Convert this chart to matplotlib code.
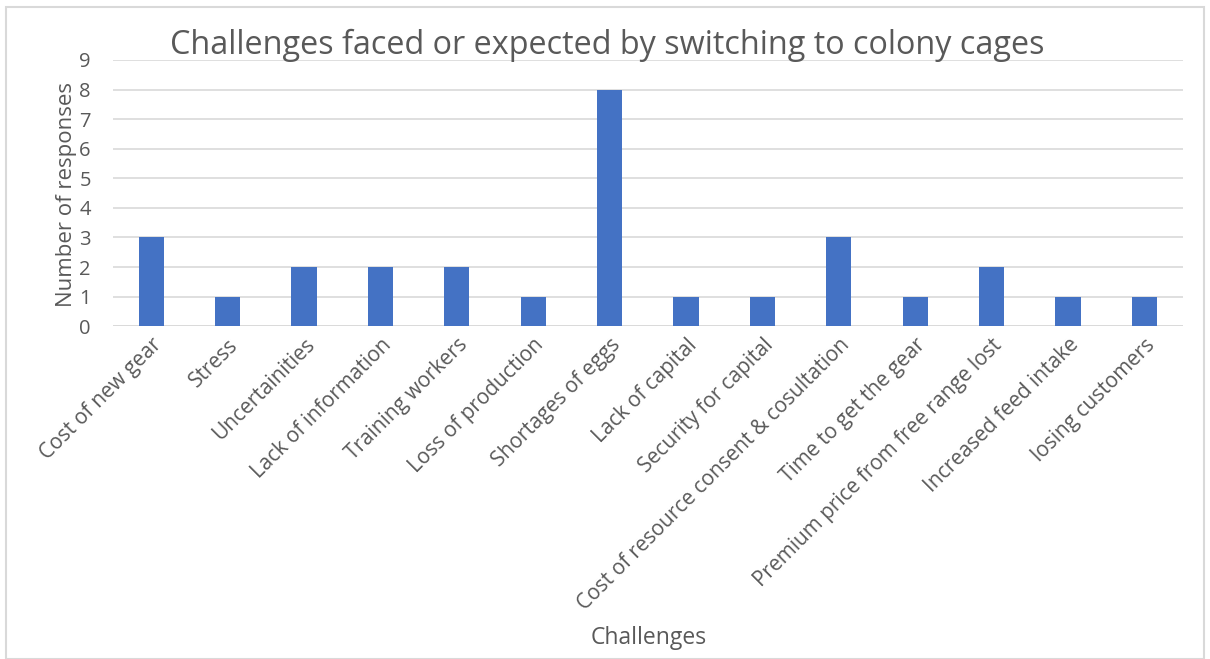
import matplotlib.pyplot as plt
from matplotlib.patches import Rectangle

challenges = [
    "Cost of new gear", "Stress", "Uncertainities", "Lack of information",
    "Training workers", "Loss of production", "Shortages of eggs",
    "Lack of capital", "Security for capital",
    "Cost of resource consent & cosultation", "Time to get the gear",
    "Premium price from free range lost", "Increased feed intake",
    "losing customers",
]
responses = [3, 1, 2, 2, 2, 1, 8, 1, 1, 3, 1, 2, 1, 1]

BAR = "#4472c4"
TXT = "#595959"
GRID = "#d9d9d9"

plt.rcParams["font.family"] = ["Open Sans", "DejaVu Sans"]

fig = plt.figure(figsize=(12.1, 6.59), dpi=100)
ax = fig.add_axes([0.0934, 0.505, 0.884, 0.404])

x = range(len(challenges))
ax.bar(x, responses, width=0.33, color=BAR, zorder=3)

ax.set_xlim(-0.5, len(challenges) - 0.5)
ax.set_ylim(0, 9)
ax.set_yticks(range(10))
ax.grid(axis="y", color=GRID, linewidth=1.2, zorder=0)
for s in ax.spines.values():
    s.set_visible(False)
ax.axhline(0, color=GRID, linewidth=1.2, zorder=2)

ax.set_xticks(list(x))
ax.set_xticklabels(challenges, rotation=45, ha="right", rotation_mode="anchor",
                   fontsize=15, color=TXT)
ax.tick_params(axis="y", length=0, labelsize=14.5, colors=TXT, pad=16)
ax.tick_params(axis="x", length=0, colors=TXT, pad=6)

fig.text(0.055, 0.705, "Number of responses", fontsize=16, color=TXT,
         rotation=90, ha="center", va="center")
fig.text(0.536, 0.032, "Challenges", fontsize=16.5, color=TXT, ha="center", va="center")
fig.text(0.502, 0.931, "Challenges faced or expected by switching to colony cages",
         fontsize=23.3, color=TXT, ha="center", va="center")

fig.patches.append(Rectangle((0.005, 0.0), 0.99, 0.99, transform=fig.transFigure,
                             fill=False, edgecolor="#d9d9d9", linewidth=1.5))

fig.savefig("out.png", dpi=100)
